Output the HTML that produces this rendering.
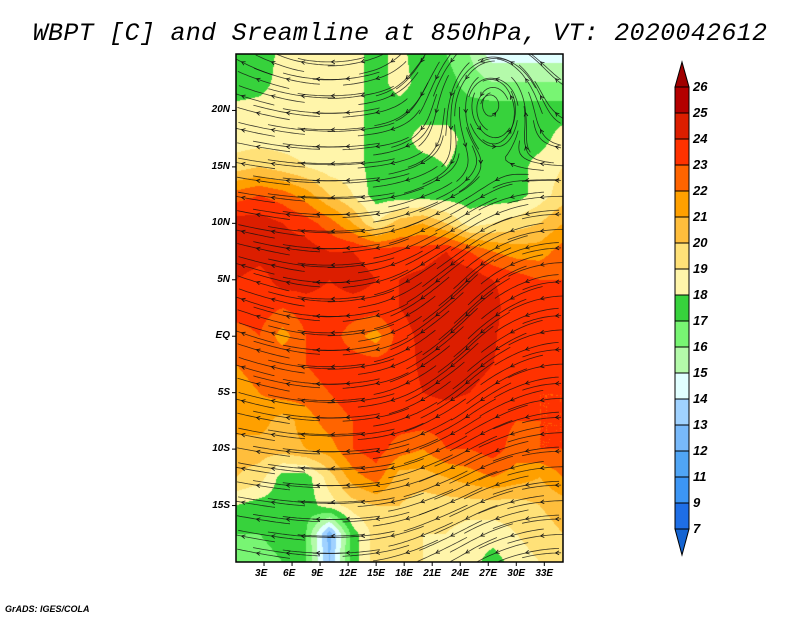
<!DOCTYPE html>
<html><head><meta charset="utf-8">
<style>
body{margin:0;background:#fff;width:800px;height:618px;position:relative;overflow:hidden;font-family:"Liberation Sans",sans-serif}
#title{position:absolute;left:0;top:19px;width:800px;text-align:center;font:italic 25px "Liberation Mono",monospace;color:#000;letter-spacing:0.3px}
.t{position:absolute;font:italic bold 10px "Liberation Sans",sans-serif;color:#000}
#foot{position:absolute;left:5px;top:604px;font:italic bold 9px "Liberation Sans",sans-serif}
</style></head><body>
<div id="title">WBPT [C] and Sreamline at 850hPa, VT: 2020042612</div>
<canvas id="map" width="327" height="508" style="position:absolute;left:236px;top:54px"></canvas>
<svg id="ov" width="800" height="618" style="position:absolute;left:0;top:0"></svg>
<div id="foot">GrADS: IGES/COLA</div>
<script>
// grid nodes every 2.5 deg
const lons=[0,2.5,5,7.5,10,12.5,15,17.5,20,22.5,25,27.5,30,32.5,35];
const lats=[25,22.5,20,17.5,15,12.5,10,7.5,5,2.5,0,-2.5,-5,-7.5,-10,-12.5,-15,-17.5,-20];
const wbpt=[
[18,17,18.5,18.5,18.5,18.5,17.5,18.5,17,17,16,14.5,14.5,14.5,14.5],
[17,17.5,18.5,18.5,18.5,18.5,17.5,18.5,17.5,17.5,16.5,16,16,16,16],
[18.5,18.5,18.5,18.5,18.5,18.5,17.5,17.5,17.5,17.5,17.5,17.5,17.5,17.5,17.5],
[18.5,18.5,18.5,18.5,18.5,18.5,17.5,17.5,18.5,18.5,17.5,17.5,17.5,17.5,18.5],
[19.5,20,19.5,19,18.5,18.5,17.5,17.5,17.5,18,17.5,17.5,17.5,18.5,19],
[22.5,23,22.5,21.5,20,19,17.5,17.5,17.5,17.5,17.5,17.5,17.5,18.5,19.5],
[24.5,24.5,24,23.5,22.5,21,19,20.5,21,20,18.5,19,19.5,20,21],
[24.9,24.5,24.5,24.5,24,24,23.5,23.5,23.5,24,23,22,21.5,21.5,22.5],
[24,23.5,24.5,24.5,24,24.5,24,24,24.3,24.8,24.8,24,23.5,23,23],
[23.5,23.5,23,23.5,23.5,23.5,23.5,24,24.5,24.8,24.8,24.5,23,23.5,23.5],
[22.5,23,21.5,23,23.5,22.5,21.5,23.5,24.3,24.5,24.5,24.2,23,23.5,23.5],
[22,22.5,23,23,23.5,23.5,23.5,23.5,24.2,24.5,24.5,24,23.5,23,23.5],
[21.5,22,22.5,22.5,23,23.5,23.5,23.5,24,24.2,24,23.5,23.5,23,23],
[21.5,21.5,20.5,21.5,22.5,23,23.5,23.5,23.5,23.5,23.5,23.5,23,23,23],
[20.5,20.5,20.5,21,21.5,23,23.5,22.5,22,23,23,23.5,22.5,23,23],
[20,19.5,17.5,17.5,19.5,21.5,22.5,20.5,20.5,21,21.5,22,21.5,21,22],
[18,17.5,17.5,17.5,18.5,19.5,20,20,19.5,19.5,19.5,19.5,19.5,20,20.5],
[17,17,17.5,17,12.5,17.5,19.5,19.5,19,19,18.5,18.5,19,19.5,20],
[16.5,16.5,17,17,13,17.5,19.5,19,19,18.5,18.5,17.5,18.5,19,19.5]];
const levels=[7,9,11,12,13,14,15,16,17,18,19,20,21,22,23,24,25,26];
const levelColors=["#1e6ee6","#3c96f5","#50a5f5","#78b9fa","#a0d2ff","#e1ffff","#b4faaa","#78f573","#37d23c","#fff5aa","#ffe178","#ffbe3c","#ffa000","#ff6400","#ff3200","#dc1e00","#b40000"];
const lowColor="#1464d2", highColor="#a00000";
const labelLevels=[26,25,24,23,22,21,20,19,18,17,16,15,14,13,12,11,9,7];
const lonTicks=[3,6,9,12,15,18,21,24,27,30,33];
const latTicks=[20,15,10,5,0,-5,-10,-15];
// wind profile arrays
const uLat=[25,20,15,12.5,10,5,0,-5,-10,-15,-20];
const uVal=[-0.3,-0.6,-1,-1,-0.8,-0.5,-0.5,-0.6,-0.9,-1,-0.8];
const vLon=[0,5,10,15,20,25,30,35];
const vVal=[0.15,0.1,0,-0.1,-0.3,-0.4,-0.2,0];

const X0=236,X1=563,Y0=54,Y1=562,LON0=0,LON1=35,LAT0=25,LAT1=-20;
const xs=l=>X0+(l-LON0)/(LON1-LON0)*(X1-X0);
const ys=l=>Y0+(LAT0-l)/(LAT0-LAT1)*(Y1-Y0);
function field(lon,lat){
  let fi=(lon-lons[0])/2.5, fj=(lats[0]-lat)/2.5;
  fi=Math.max(0,Math.min(lons.length-1.001,fi)); fj=Math.max(0,Math.min(lats.length-1.001,fj));
  const i=Math.floor(fi),j=Math.floor(fj),a=fi-i,b=fj-j;
  return wbpt[j][i]*(1-a)*(1-b)+wbpt[j][i+1]*a*(1-b)+wbpt[j+1][i]*(1-a)*b+wbpt[j+1][i+1]*a*b;
}
function colorFor(v){
  if(v<levels[0])return lowColor;
  for(let k=0;k<levels.length-1;k++) if(v<levels[k+1]) return levelColors[k];
  return highColor;
}
const cv=document.getElementById('map'),ctx=cv.getContext('2d');
for(let py=0;py<cv.height;py++)for(let px=0;px<cv.width;px++){
  const lon=LON0+(px+0.5)/cv.width*(LON1-LON0), lat=LAT0-(py+0.5)/cv.height*(LAT0-LAT1);
  ctx.fillStyle=colorFor(field(lon,lat));ctx.fillRect(px,py,1,1);
}
function interp(xa,ya,x){
  if(x<=xa[0]&&xa[0]<xa[1])return ya[0];
  if(x>=xa[0]&&xa[0]>xa[1])return ya[0];
  for(let k=0;k<xa.length-1;k++){const lo=Math.min(xa[k],xa[k+1]),hi=Math.max(xa[k],xa[k+1]);
    if(x>=lo&&x<=hi){const t=(x-xa[k])/(xa[k+1]-xa[k]);return ya[k]+t*(ya[k+1]-ya[k]);}}
  return ya[ya.length-1];
}
function wind(lon,lat){
  let u=interp(uLat,uVal,lat), v=interp(vLon,vVal,lon);
  const dx=lon-27,dy=lat-21,r2=dx*dx+dy*dy;const s=3*Math.exp(-r2/20);
  u+=-dy*s*0.3; v+=dx*s*0.3;
  return [u,v];
}
// streamlines (bidirectional, short)
const NS="http://www.w3.org/2000/svg",svg=document.getElementById('ov');
const gS=document.createElementNS(NS,'g');


svg.appendChild(gS);
function trace(x,y,dir,n){const out=[];for(let s=0;s<n;s++){const w=wind(x,y);const m=Math.hypot(w[0],w[1])||1;x+=dir*w[0]/m*0.3;y+=dir*w[1]/m*0.3;
  if(x<0||x>35||y<-20||y>25)break;out.push([x,y]);}return out;}
let row=0;
for(let la=24.3;la>-20;la-=1.5,row++)for(let lo=(row%2)*1.6+0.6;lo<35;lo+=3.2){
  const back=trace(lo,la,-1,12).reverse(),fwd=trace(lo,la,1,12);
  const all=back.concat([[lo,la]],fwd).map(q=>[xs(q[0]),ys(q[1])]);
  if(all.length<4)continue;
  const p=document.createElementNS(NS,'polyline');
  p.setAttribute('points',all.map(q=>q[0].toFixed(1)+','+q[1].toFixed(1)).join(' '));
  p.setAttribute('fill','none');p.setAttribute('stroke','#111');p.setAttribute('stroke-width','0.8');p.setAttribute('stroke-opacity','0.8');
  
  
  gS.appendChild(p);
  const m=back.length,A=all[m],B=all[Math.min(m+1,all.length-1)],ang=Math.atan2(B[1]-A[1],B[0]-A[0]);
  const h=document.createElementNS(NS,'path');
  const l=4;h.setAttribute('d',`M${A[0]-l*Math.cos(ang-0.5)},${A[1]-l*Math.sin(ang-0.5)} L${A[0]},${A[1]} L${A[0]-l*Math.cos(ang+0.5)},${A[1]-l*Math.sin(ang+0.5)}`);
  h.setAttribute('fill','none');h.setAttribute('stroke','#111');h.setAttribute('stroke-width','0.8');
  
  
  gS.appendChild(h);
}
// frame
const fr=document.createElementNS(NS,'rect');
fr.setAttribute('x',X0);fr.setAttribute('y',Y0);fr.setAttribute('width',X1-X0);fr.setAttribute('height',Y1-Y0);
fr.setAttribute('fill','none');fr.setAttribute('stroke','#000');fr.setAttribute('stroke-width','1.5');


svg.appendChild(fr);
function tick(x1,y1,x2,y2){const t=document.createElementNS(NS,'line');t.setAttribute('x1',x1);t.setAttribute('y1',y1);t.setAttribute('x2',x2);t.setAttribute('y2',y2);t.setAttribute('stroke','#000');


svg.appendChild(t);}
function label(txt,x,y,name){const d=document.createElement('div');d.className='t';d.textContent=txt;d.style.left=x+'px';d.style.top=y+'px';


document.body.appendChild(d);return d;}
lonTicks.forEach(l=>{const x=xs(l);tick(x,Y1,x,Y1+4);label(l+'E',x-9,Y1+6,'x-tick-label');});
latTicks.forEach(l=>{const y=ys(l);tick(X0-4,y,X0,y);const t=l===0?'EQ':(l>0?l+'N':(-l)+'S');const d=label(t,0,y-6,'y-tick-label');d.style.left='';d.style.right=(800-X0+6)+'px';});
// colorbar
const CX=675,CW=14,CY=87,CH=26,n=levelColors.length;
for(let k=0;k<n;k++){const r=document.createElementNS(NS,'rect');
  r.setAttribute('x',CX);r.setAttribute('y',CY+(n-1-k)*CH);r.setAttribute('width',CW);r.setAttribute('height',CH);
  r.setAttribute('fill',levelColors[k]);r.setAttribute('stroke','#000');r.setAttribute('stroke-width','1');
  
  
  svg.appendChild(r);}
const tTop=document.createElementNS(NS,'polygon');
tTop.setAttribute('points',`${CX},${CY} ${CX+CW},${CY} ${CX+CW/2},${CY-25}`);tTop.setAttribute('fill',highColor);tTop.setAttribute('stroke','#000');


svg.appendChild(tTop);
const tBot=document.createElementNS(NS,'polygon');
tBot.setAttribute('points',`${CX},${CY+n*CH} ${CX+CW},${CY+n*CH} ${CX+CW/2},${CY+n*CH+26}`);tBot.setAttribute('fill',lowColor);tBot.setAttribute('stroke','#000');


svg.appendChild(tBot);
labelLevels.forEach((v,k)=>{const d=label(String(v),CX+CW+4,CY+k*CH-8,'colorbar-label');d.style.fontSize='13px';});
</script>
</body></html>
